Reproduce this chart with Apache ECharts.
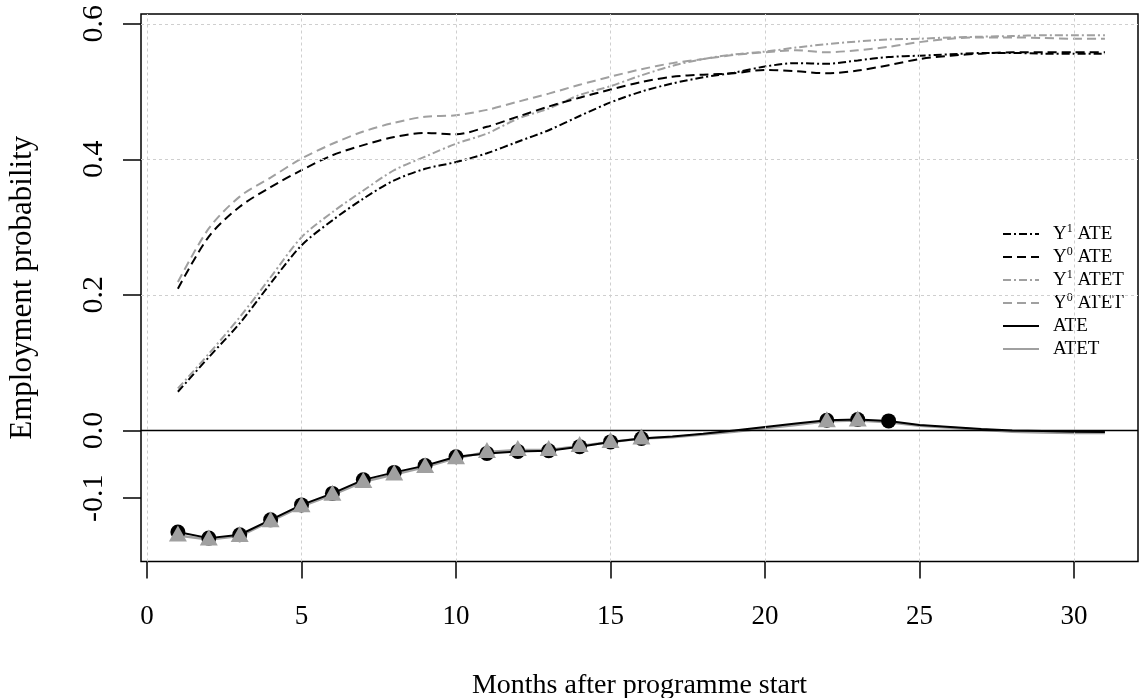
<!DOCTYPE html>
<html>
<head>
<meta charset="utf-8">
<title>Employment probability</title>
<script src="https://cdn.jsdelivr.net/npm/echarts@6/dist/echarts.min.js"></script>
<style>
  html, body { margin: 0; padding: 0; background: #fff; }
  #chart { width: 1139px; height: 698px; }
</style>
</head>
<body>
<div id="chart"></div>
<script>
// months after start
var months = [];
for (var m = 1; m <= 31; m++) months.push(m);

// potential outcomes
var y1Ate  = [0.057, 0.108, 0.158, 0.217, 0.273, 0.310, 0.342, 0.369, 0.386, 0.396, 0.409, 0.426, 0.443, 0.464, 0.484, 0.500,
              0.512, 0.521, 0.528, 0.537, 0.542, 0.541, 0.546, 0.551, 0.553, 0.555, 0.557, 0.557, 0.556, 0.556, 0.556];
var y0Ate  = [0.209, 0.286, 0.330, 0.359, 0.384, 0.406, 0.421, 0.433, 0.439, 0.437, 0.448, 0.463, 0.478, 0.491, 0.503, 0.514,
              0.522, 0.525, 0.527, 0.532, 0.530, 0.527, 0.531, 0.539, 0.548, 0.553, 0.556, 0.558, 0.558, 0.558, 0.558];
var y1Atet = [0.062, 0.113, 0.167, 0.226, 0.285, 0.322, 0.354, 0.384, 0.404, 0.423, 0.438, 0.460, 0.475, 0.495, 0.508, 0.524,
              0.538, 0.548, 0.555, 0.559, 0.565, 0.570, 0.574, 0.577, 0.578, 0.580, 0.581, 0.582, 0.583, 0.583, 0.583];
var y0Atet = [0.219, 0.298, 0.345, 0.373, 0.401, 0.423, 0.441, 0.454, 0.463, 0.465, 0.473, 0.485, 0.497, 0.510, 0.522, 0.533,
              0.542, 0.548, 0.554, 0.558, 0.561, 0.558, 0.561, 0.566, 0.573, 0.578, 0.580, 0.580, 0.579, 0.578, 0.578];

// effects
var ate  = [-0.150, -0.159, -0.154, -0.132, -0.110, -0.093, -0.073, -0.062, -0.052, -0.039, -0.034, -0.031, -0.030, -0.024, -0.017, -0.012,
            -0.009, -0.005, 0.000, 0.005, 0.010, 0.015, 0.016, 0.014, 0.008, 0.005, 0.002, 0.000, -0.001, -0.002, -0.0025];
var atet = [-0.155, -0.161, -0.156, -0.134, -0.112, -0.095, -0.076, -0.065, -0.054, -0.041, -0.032, -0.029, -0.029, -0.023, -0.017, -0.012,
            -0.010, -0.006, -0.002, 0.003, 0.008, 0.0135, 0.0145, 0.012, 0.007, 0.004, 0.001, -0.002, -0.003, -0.004, -0.004];

// months with significant effect (marked)
var ateSig  = [1, 2, 3, 4, 5, 6, 7, 8, 9, 10, 11, 12, 13, 14, 15, 16, 22, 23, 24];
var atetSig = [1, 2, 3, 4, 5, 6, 7, 8, 9, 10, 11, 12, 13, 14, 15, 16, 22, 23];

// axes
var xTicks = [0, 5, 10, 15, 20, 25, 30];
var yTicks = [-0.1, 0.0, 0.2, 0.4, 0.6];
var yGrid  = [0.2, 0.4, 0.6];

var legendNames = ['Y1 ATE', 'Y0 ATE', 'Y1 ATET', 'Y0 ATET', 'ATE', 'ATET'];

var FONT = 'Liberation Serif';
var GRAY = '#a0a0a0';

function pairs(vals) {
  return months.map(function (mm, i) { return [mm, vals[i]]; });
}
function sigPairs(vals, sig) {
  return sig.map(function (mm) { return [mm, vals[mm - 1]]; });
}

var chart = echarts.init(document.getElementById('chart'));

var gridLines = xTicks.map(function (v) {
  return { xAxis: v, lineStyle: { color: '#cfcfcf', type: [3, 3], width: 1 } };
}).concat(yGrid.map(function (v) {
  return { yAxis: v, lineStyle: { color: '#cfcfcf', type: [3, 3], width: 1 } };
})).concat([{ yAxis: 0, lineStyle: { color: '#000', type: 'solid', width: 1.4 } }]);

var option = {
  animation: false,
  backgroundColor: '#fff',
  textStyle: { fontFamily: FONT },
  grid: {
    left: 141, right: 1, top: 14, bottom: 136.5,
    outerBoundsMode: 'none',
    show: true, borderColor: '#000', borderWidth: 1.5, backgroundColor: 'transparent'
  },
  legend: {
    data: legendNames,
    orient: 'vertical',
    left: 997,
    top: 218,
    itemWidth: 36,
    itemHeight: 14,
    itemGap: 1,
    itemStyle: { opacity: 0 },
    textStyle: {
      color: '#000', fontFamily: FONT, fontSize: 19, lineHeight: 22, padding: [0, 0, 0, 9],
      rich: {
        b: { fontFamily: FONT, fontSize: 19, color: '#000', lineHeight: 22 },
        s: { fontFamily: FONT, fontSize: 12, color: '#000', verticalAlign: 'top', lineHeight: 12 }
      }
    },
    formatter: function (name) {
      if (name.charAt(0) === 'Y') {
        return '{b|Y}{s|' + name.charAt(1) + '}{b|' + name.slice(2) + '}';
      }
      return '{b|' + name + '}';
    }
  },
  xAxis: {
    type: 'value',
    min: -0.194, max: 32.07,
    name: 'Months after programme start',
    nameLocation: 'middle',
    nameGap: 110,
    nameTextStyle: { fontFamily: FONT, fontSize: 28, color: '#000' },
    axisLine: { show: false, onZero: false },
    splitLine: { show: false },
    axisTick: { show: true, customValues: xTicks, length: 17, lineStyle: { color: '#000', width: 1.5 } },
    axisLabel: { customValues: xTicks, margin: 42, fontFamily: FONT, fontSize: 27, color: '#000' }
  },
  yAxis: {
    type: 'value',
    min: -0.1935, max: 0.6145,
    name: 'Employment probability',
    nameLocation: 'middle',
    nameGap: 103,
    nameTextStyle: { fontFamily: FONT, fontSize: 31, color: '#000' },
    axisLine: { show: false, onZero: false },
    splitLine: { show: false },
    axisTick: { show: true, customValues: yTicks, length: 18, lineStyle: { color: '#000', width: 1.5 } },
    axisLabel: {
      customValues: yTicks, rotate: 90, margin: 32, fontFamily: FONT, fontSize: 30, color: '#000',
      formatter: function (v) { return v.toFixed(1); }
    }
  },
  series: [
    {
      name: 'grid', type: 'line', data: [], z: 1, silent: true,
      markLine: { silent: true, symbol: 'none', label: { show: false }, data: gridLines }
    },
    {
      name: 'Y1 ATE', type: 'line', data: pairs(y1Ate), symbol: 'none', smooth: 0.3, z: 3,
      itemStyle: { color: '#000' },
      lineStyle: { color: '#000', width: 2, type: [8, 3, 2, 3] }
    },
    {
      name: 'Y0 ATE', type: 'line', data: pairs(y0Ate), symbol: 'none', smooth: 0.3, z: 3,
      itemStyle: { color: '#000' },
      lineStyle: { color: '#000', width: 2, type: [9, 5] }
    },
    {
      name: 'Y1 ATET', type: 'line', data: pairs(y1Atet), symbol: 'none', smooth: 0.3, z: 2,
      itemStyle: { color: GRAY },
      lineStyle: { color: GRAY, width: 2, type: [8, 3, 2, 3] }
    },
    {
      name: 'Y0 ATET', type: 'line', data: pairs(y0Atet), symbol: 'none', smooth: 0.3, z: 2,
      itemStyle: { color: GRAY },
      lineStyle: { color: GRAY, width: 2, type: [9, 5] }
    },
    {
      name: 'ATE', type: 'line', data: pairs(ate), symbol: 'none', z: 4,
      itemStyle: { color: '#000' },
      lineStyle: { color: '#000', width: 2 }
    },
    {
      name: 'ATET', type: 'line', data: pairs(atet), symbol: 'none', z: 3,
      itemStyle: { color: GRAY },
      lineStyle: { color: GRAY, width: 2.5 }
    },
    {
      name: 'ATE sig', type: 'scatter', data: sigPairs(ate, ateSig), symbol: 'circle', symbolSize: 15, z: 5,
      itemStyle: { color: '#000', opacity: 1 }
    },
    {
      name: 'ATET sig', type: 'scatter', data: sigPairs(atet, atetSig), symbol: 'triangle', symbolSize: [18, 16],
      symbolOffset: [0, -2], z: 6,
      itemStyle: { color: GRAY, opacity: 1 }
    }
  ]
};

chart.setOption(option);

window.addEventListener('resize', function () {
  chart.resize();
});
</script>
</body>
</html>
